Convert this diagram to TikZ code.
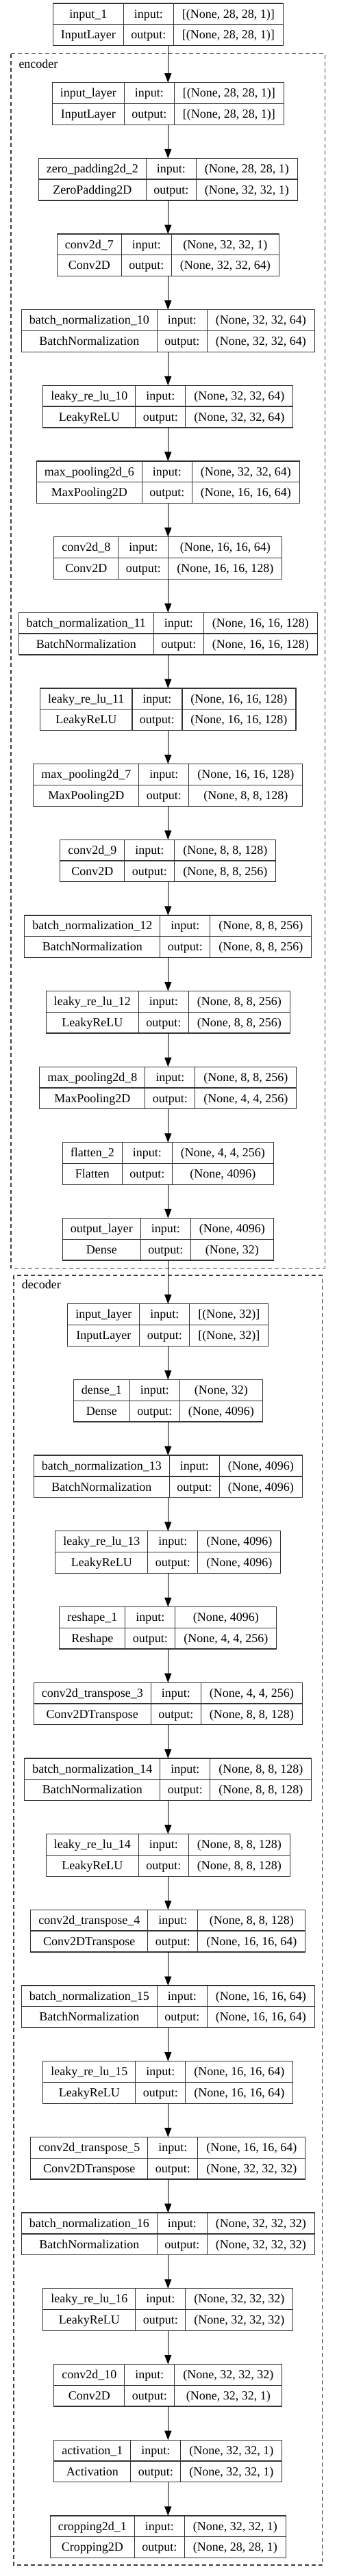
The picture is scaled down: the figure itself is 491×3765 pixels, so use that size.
\documentclass[tikz,border=0pt]{standalone}
\usepackage{fontspec}
\setmainfont{Liberation Serif}
\usetikzlibrary{arrows.meta}
\newlength\colA \newlength\colB \newlength\colC \newlength\tmpw \newlength\colBfix
\newlength\posA \newlength\posB \newlength\posC \newlength\posD \newlength\totW
\newtoks\boxtoks
\newcommand\lfont{\fontsize{18pt}{21pt}\selectfont}
\newcommand\maxwidth[3]{\settowidth{#1}{\lfont #2}\settowidth{\tmpw}{\lfont #3}\ifdim\tmpw>#1\relax #1=\tmpw\fi}
\tikzset{
  layer/.style={draw=black!80, line width=1.3pt, inner sep=0pt, outer sep=0pt, minimum height=61.6pt},
  cellline/.style={draw=black!80, line width=1.3pt},
  txt/.style={anchor=base, inner sep=0pt, font=\lfont},
  edge/.style={draw=black, line width=1.3pt, -{Triangle[length=13.5pt,width=10pt]}},
  cluster/.style={draw=black!75, line width=1.3pt, dash pattern=on 6pt off 4pt},
  clabel/.style={anchor=base west, inner sep=0pt, font=\lfont},
}
% measure outside the picture, store widths, queue the drawing
\newcommand\defbox[6]{%
  \maxwidth{\colA}{#3}{#4}\addtolength{\colA}{23pt}%
  \maxwidth{\colC}{#5}{#6}\addtolength{\colC}{25pt}%
  \expandafter\xdef\csname wA@#1\endcsname{\the\colA}%
  \expandafter\xdef\csname wC@#1\endcsname{\the\colC}%
  \global\boxtoks\expandafter{\the\boxtoks\layerbox{#1}{#2}{#3}{#4}{#5}{#6}}%
}
\newcommand\layerbox[6]{%
  \setlength{\colA}{\csname wA@#1\endcsname}%
  \setlength{\colB}{\colBfix}%
  \setlength{\colC}{\csname wC@#1\endcsname}%
  \setlength{\totW}{\dimexpr\colA+\colB+\colC\relax}%
  \setlength{\posA}{\dimexpr\colA/2\relax}%
  \setlength{\posB}{\dimexpr\colA+\colB/2\relax}%
  \setlength{\posC}{\dimexpr\colA+\colB+\colC/2\relax}%
  \setlength{\posD}{\dimexpr\colA+\colB\relax}%
  \node[layer, minimum width=\totW, anchor=north] (#1) at (245.3,#2) {};
  \draw[cellline] ([xshift=\colA]#1.north west) -- ([xshift=\colA]#1.south west);
  \draw[cellline] ([xshift=\posD]#1.north west) -- ([xshift=\posD]#1.south west);
  \draw[cellline] (#1.west) -- (#1.east);
  \node[txt] (#1-name) at ([xshift=\posA,yshift=-21.1pt]#1.north west) {#3};
  \node[txt] (#1-cls) at ([xshift=\posA,yshift=-51.9pt]#1.north west) {#4};
  \node[txt] (#1-il) at ([xshift=\posB,yshift=-21.1pt]#1.north west) {input:};
  \node[txt] (#1-ol) at ([xshift=\posB,yshift=-51.9pt]#1.north west) {output:};
  \node[txt] (#1-iv) at ([xshift=\posC,yshift=-21.1pt]#1.north west) {#5};
  \node[txt] (#1-ov) at ([xshift=\posC,yshift=-51.9pt]#1.north west) {#6};
}
\begin{document}%
\settowidth{\colBfix}{\lfont output:}\addtolength{\colBfix}{22pt}%
\defbox{in1}{5}{input\_1}{InputLayer}{[(None, 28, 28, 1)]}{[(None, 28, 28, 1)]}%
\defbox{e0}{120.7}{input\_layer}{InputLayer}{[(None, 28, 28, 1)]}{[(None, 28, 28, 1)]}%
\defbox{e1}{231.35}{zero\_padding2d\_2}{ZeroPadding2D}{(None, 28, 28, 1)}{(None, 32, 32, 1)}%
\defbox{e2}{342.0}{conv2d\_7}{Conv2D}{(None, 32, 32, 1)}{(None, 32, 32, 64)}%
\defbox{e3}{452.65}{batch\_normalization\_10}{BatchNormalization}{(None, 32, 32, 64)}{(None, 32, 32, 64)}%
\defbox{e4}{563.3}{leaky\_re\_lu\_10}{LeakyReLU}{(None, 32, 32, 64)}{(None, 32, 32, 64)}%
\defbox{e5}{673.95}{max\_pooling2d\_6}{MaxPooling2D}{(None, 32, 32, 64)}{(None, 16, 16, 64)}%
\defbox{e6}{784.6}{conv2d\_8}{Conv2D}{(None, 16, 16, 64)}{(None, 16, 16, 128)}%
\defbox{e7}{895.25}{batch\_normalization\_11}{BatchNormalization}{(None, 16, 16, 128)}{(None, 16, 16, 128)}%
\defbox{e8}{1005.9}{leaky\_re\_lu\_11}{LeakyReLU}{(None, 16, 16, 128)}{(None, 16, 16, 128)}%
\defbox{e9}{1116.55}{max\_pooling2d\_7}{MaxPooling2D}{(None, 16, 16, 128)}{(None, 8, 8, 128)}%
\defbox{e10}{1227.2}{conv2d\_9}{Conv2D}{(None, 8, 8, 128)}{(None, 8, 8, 256)}%
\defbox{e11}{1337.85}{batch\_normalization\_12}{BatchNormalization}{(None, 8, 8, 256)}{(None, 8, 8, 256)}%
\defbox{e12}{1448.5}{leaky\_re\_lu\_12}{LeakyReLU}{(None, 8, 8, 256)}{(None, 8, 8, 256)}%
\defbox{e13}{1559.15}{max\_pooling2d\_8}{MaxPooling2D}{(None, 8, 8, 256)}{(None, 4, 4, 256)}%
\defbox{e14}{1669.8}{flatten\_2}{Flatten}{(None, 4, 4, 256)}{(None, 4096)}%
\defbox{e15}{1780.45}{output\_layer}{Dense}{(None, 4096)}{(None, 32)}%
\defbox{d0}{1905.7}{input\_layer}{InputLayer}{[(None, 32)]}{[(None, 32)]}%
\defbox{d1}{2016.4}{dense\_1}{Dense}{(None, 32)}{(None, 4096)}%
\defbox{d2}{2127.1}{batch\_normalization\_13}{BatchNormalization}{(None, 4096)}{(None, 4096)}%
\defbox{d3}{2237.8}{leaky\_re\_lu\_13}{LeakyReLU}{(None, 4096)}{(None, 4096)}%
\defbox{d4}{2348.5}{reshape\_1}{Reshape}{(None, 4096)}{(None, 4, 4, 256)}%
\defbox{d5}{2459.2}{conv2d\_transpose\_3}{Conv2DTranspose}{(None, 4, 4, 256)}{(None, 8, 8, 128)}%
\defbox{d6}{2569.9}{batch\_normalization\_14}{BatchNormalization}{(None, 8, 8, 128)}{(None, 8, 8, 128)}%
\defbox{d7}{2680.6}{leaky\_re\_lu\_14}{LeakyReLU}{(None, 8, 8, 128)}{(None, 8, 8, 128)}%
\defbox{d8}{2791.3}{conv2d\_transpose\_4}{Conv2DTranspose}{(None, 8, 8, 128)}{(None, 16, 16, 64)}%
\defbox{d9}{2902.0}{batch\_normalization\_15}{BatchNormalization}{(None, 16, 16, 64)}{(None, 16, 16, 64)}%
\defbox{d10}{3012.7}{leaky\_re\_lu\_15}{LeakyReLU}{(None, 16, 16, 64)}{(None, 16, 16, 64)}%
\defbox{d11}{3123.4}{conv2d\_transpose\_5}{Conv2DTranspose}{(None, 16, 16, 64)}{(None, 32, 32, 32)}%
\defbox{d12}{3234.1}{batch\_normalization\_16}{BatchNormalization}{(None, 32, 32, 32)}{(None, 32, 32, 32)}%
\defbox{d13}{3344.8}{leaky\_re\_lu\_16}{LeakyReLU}{(None, 32, 32, 32)}{(None, 32, 32, 32)}%
\defbox{d14}{3455.5}{conv2d\_10}{Conv2D}{(None, 32, 32, 32)}{(None, 32, 32, 1)}%
\defbox{d15}{3566.2}{activation\_1}{Activation}{(None, 32, 32, 1)}{(None, 32, 32, 1)}%
\defbox{d16}{3676.9}{cropping2d\_1}{Cropping2D}{(None, 32, 32, 1)}{(None, 28, 28, 1)}%
\begin{tikzpicture}[x=1pt,y=-1pt]
\useasboundingbox (0,0) rectangle (491,3765);
% clusters
\draw[cluster] (16,78.7) rectangle (474.3,1853.3);
\node[clabel] (enclabel) at (27.3,99.3) {encoder};
\draw[cluster] (20,1864) rectangle (470.7,3749);
\node[clabel] (declabel) at (31.7,1883.3) {decoder};
% all layer boxes
\the\boxtoks
% edges
\draw[edge] (in1.south) -- (e0.north);
\foreach \i [evaluate=\i as \j using int(\i+1)] in {0,...,14} {\draw[edge] (e\i.south) -- (e\j.north);}
\draw[edge] (e15.south) -- (d0.north);
\foreach \i [evaluate=\i as \j using int(\i+1)] in {0,...,15} {\draw[edge] (d\i.south) -- (d\j.north);}
\end{tikzpicture}
\end{document}
